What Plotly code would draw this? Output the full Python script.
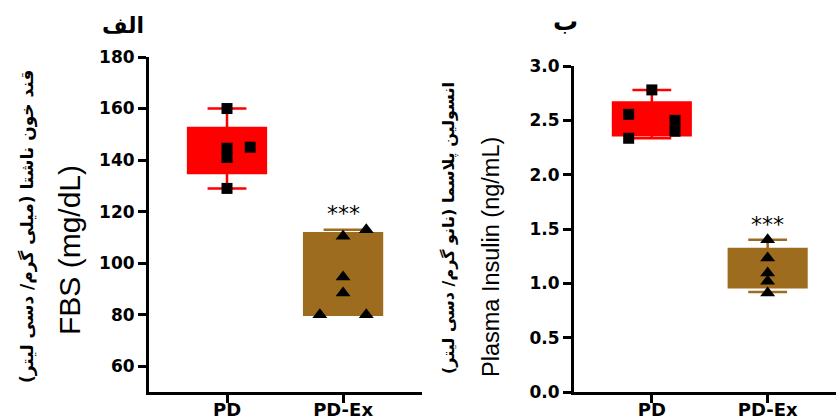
import plotly.graph_objects as go

W, H = 836, 419

# ---------------- data ----------------
groups = ["PD", "PD-Ex"]

# FBS (mg/dL)
fbs_pd = [160, 144.6, 141, 145, 129]
fbs_pdex = [80, 80, 113, 110.4, 94.6, 88.4]
fbs_pd_offsets = [0, 0, 0, 0.2, 0]
fbs_pdex_offsets = [-0.2, 0.2, 0.2, 0, 0, 0]
fbs_box_q1 = [135, 80]
fbs_box_median = [144.6, 94.6]
fbs_box_q3 = [152.4, 111.6]
fbs_box_low = [129, 80]
fbs_box_high = [160, 113]
fbs_ticks = [60, 80, 100, 120, 140, 160, 180]

# Plasma insulin (ng/mL)
ins_pd = [2.78, 2.555, 2.335, 2.50, 2.40]
ins_pdex = [1.40, 1.233, 1.094, 1.02, 0.91]
ins_pd_offsets = [0, -0.2, -0.2, 0.2, 0.2]
ins_pdex_offsets = [0, 0, 0, 0, 0]
ins_box_q1 = [2.362, 0.963]
ins_box_median = [2.50, 1.094]
ins_box_q3 = [2.665, 1.316]
ins_box_low = [2.335, 0.92]
ins_box_high = [2.78, 1.40]
ins_ticks = [0.0, 0.5, 1.0, 1.5, 2.0, 2.5, 3.0]

RED = "#FF0000"
BROWN = "#9E6C1E"
BOX_COLORS = [RED, BROWN]

fig = go.Figure()


def add_panel(xa, ya, q1, med, q3, lo, hi, pts_pd, off_pd, pts_ex, off_ex):
    for i in range(2):
        fig.add_trace(go.Box(
            x=[i], q1=[q1[i]], median=[med[i]], q3=[q3[i]],
            lowerfence=[lo[i]], upperfence=[hi[i]],
            width=0.67, whiskerwidth=0.5,
            fillcolor=BOX_COLORS[i], line=dict(color=BOX_COLORS[i], width=2.5),
            boxpoints=False, showlegend=False, xaxis=xa, yaxis=ya,
            hoverinfo="skip",
        ))
    fig.add_trace(go.Scatter(
        x=[0 + o for o in off_pd], y=pts_pd, mode="markers",
        marker=dict(symbol="square", size=11, color="black"),
        showlegend=False, xaxis=xa, yaxis=ya,
    ))
    fig.add_trace(go.Scatter(
        x=[1 + o for o in off_ex], y=pts_ex, mode="markers",
        marker=dict(symbol="triangle-up", size=13, color="black"),
        showlegend=False, xaxis=xa, yaxis=ya,
    ))


add_panel("x", "y", fbs_box_q1, fbs_box_median, fbs_box_q3, fbs_box_low, fbs_box_high,
          fbs_pd, fbs_pd_offsets, fbs_pdex, fbs_pdex_offsets)
add_panel("x2", "y2", ins_box_q1, ins_box_median, ins_box_q3, ins_box_low, ins_box_high,
          ins_pd, ins_pd_offsets, ins_pdex, ins_pdex_offsets)

tickfont = dict(family="DejaVu Sans", size=17, color="black", weight="bold")
xtickfont = dict(family="DejaVu Sans", size=18, color="black", weight="bold")

axis_common = dict(showline=True, linecolor="black", linewidth=3, ticks="outside",
                   ticklen=8, tickwidth=3, tickcolor="black", showgrid=False,
                   zeroline=False, fixedrange=True, automargin=False)

fig.update_layout(
    width=W, height=H,
    margin=dict(l=0, r=0, t=0, b=0, autoexpand=False),
    paper_bgcolor="white", plot_bgcolor="white",
    xaxis=dict(domain=[149 / W, 422 / W], range=[-0.672, 1.68], tickvals=[0, 1],
               ticktext=groups, tickfont=xtickfont, anchor="y",
               ticklabelstandoff=-9, **axis_common),
    yaxis=dict(domain=[27 / H, 362 / H], range=[50, 180], tickvals=fbs_ticks,
               tickfont=tickfont, anchor="x", **axis_common),
    xaxis2=dict(domain=[574 / W, 1.0], range=[-0.672, 1.59], tickvals=[0, 1],
                ticktext=groups, tickfont=xtickfont, anchor="y2",
                ticklabelstandoff=-9, **axis_common),
    yaxis2=dict(domain=[27 / H, 353 / H], range=[0, 3], tickvals=ins_ticks,
                tickformat=".1f", tickfont=tickfont, anchor="x2", **axis_common),
)

RLM = "\u200f"
ann = []


def paper_text(text, px, py, size, family="DejaVu Sans", weight="bold", angle=0):
    return dict(text=text, x=px / W, y=1 - py / H, xref="paper", yref="paper",
                xanchor="center", yanchor="middle", textangle=angle, showarrow=False,
                font=dict(family=family, size=size, color="black", weight=weight))


# panel letters
ann.append(paper_text("الف", 123, 25, 22))
ann.append(paper_text("ب", 565, 22, 25))
# y titles
ann.append(paper_text("قند خون ناشتا (میلی گرم/ دسی لیتر)" + RLM, 27, 227, 17, angle=-90))
ann.append(paper_text("FBS (mg/dL)", 70, 250, 30, family="Liberation Sans", weight="normal", angle=-90))
ann.append(paper_text("انسولین پلاسما (نانو گرم/ دسی لیتر)" + RLM, 449, 228, 16, angle=-90))
ann.append(paper_text("Plasma Insulin (ng/mL)", 491, 257, 23.5, family="Liberation Sans", weight="normal", angle=-90))
# significance marks
ann.append(dict(text="***", x=1, y=119.3, xref="x", yref="y", showarrow=False,
                xanchor="center", yanchor="middle",
                font=dict(family="DejaVu Sans", size=22, color="black")))
ann.append(dict(text="***", x=1, y=1.537, xref="x2", yref="y2", showarrow=False,
                xanchor="center", yanchor="middle",
                font=dict(family="DejaVu Sans", size=22, color="black")))
fig.update_layout(annotations=ann)

fig.write_html("out.html")
